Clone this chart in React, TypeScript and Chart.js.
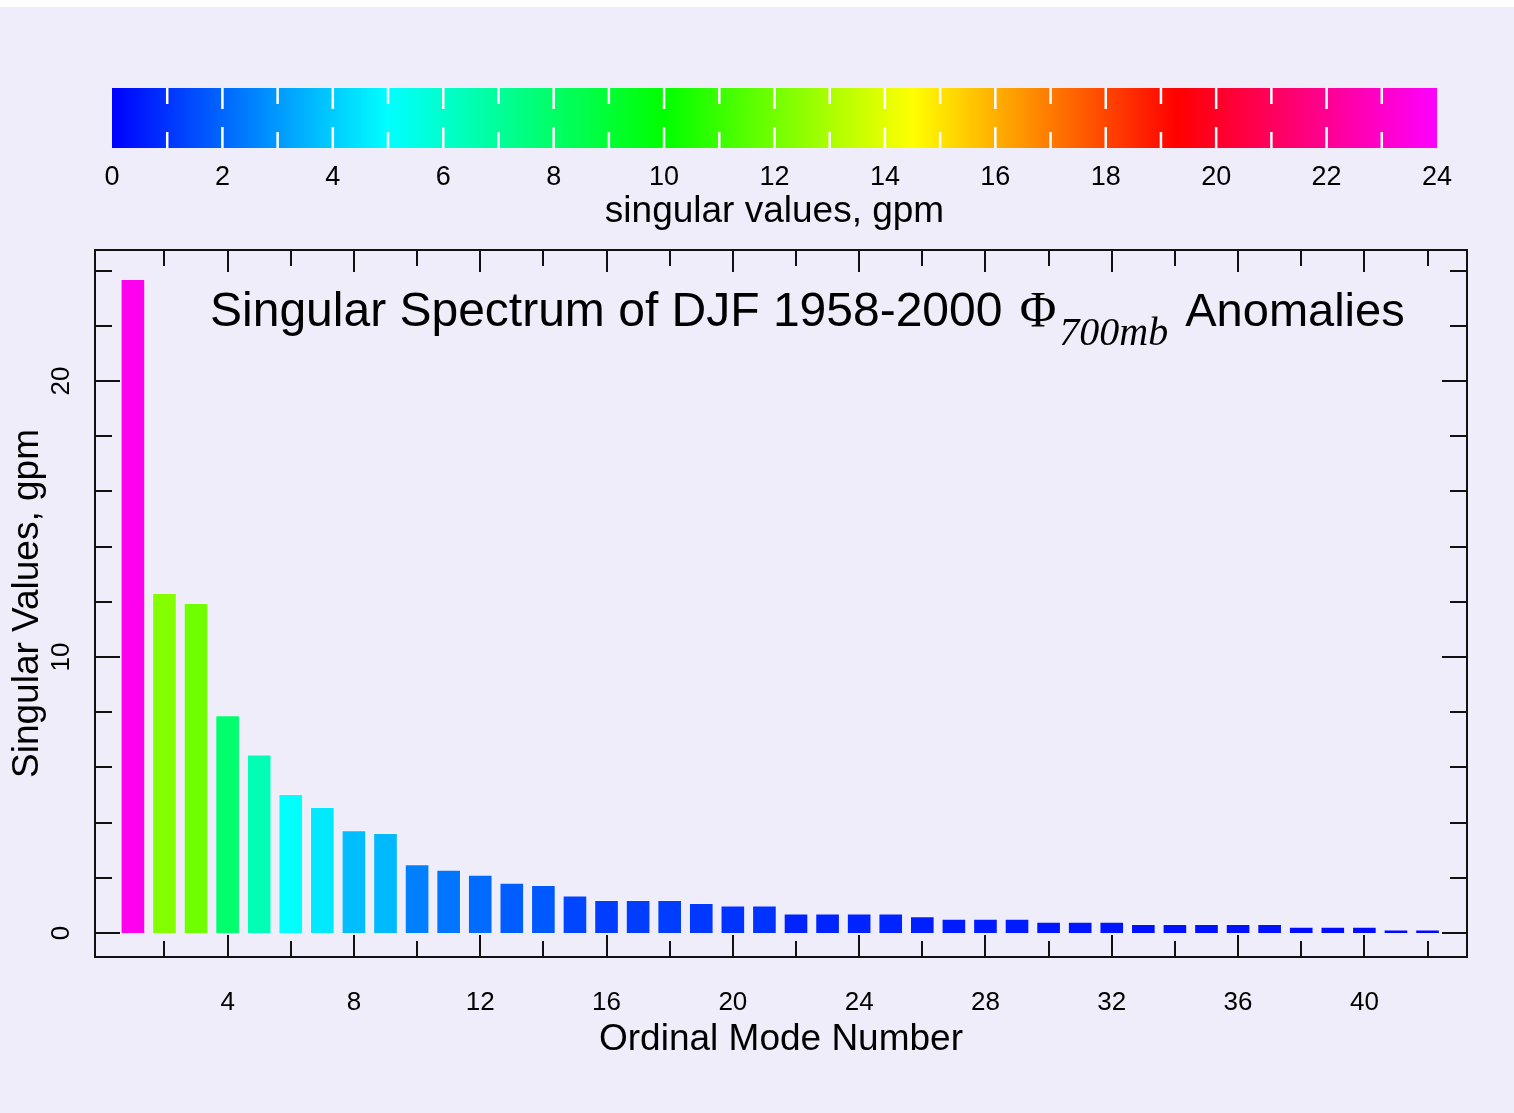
import React, { useEffect, useRef } from "react";
import { Chart, registerables } from "chart.js";

Chart.register(...registerables);

// ---------------- data ----------------
const modeNumbers = Array.from({ length: 42 }, (_, i) => i + 1);
const singularValues = [
  23.7, 12.32, 11.96, 7.89, 6.47, 5.04, 4.57, 3.72, 3.62, 2.49,
  2.29, 2.11, 1.82, 1.74, 1.36, 1.2, 1.2, 1.2, 1.09, 1.0,
  1.0, 0.71, 0.71, 0.71, 0.71, 0.61, 0.52, 0.52, 0.52, 0.41,
  0.41, 0.41, 0.33, 0.33, 0.33, 0.33, 0.33, 0.23, 0.23, 0.23,
  0.13, 0.13,
];
const xTickLabels = [4, 8, 12, 16, 20, 24, 28, 32, 36, 40];
const yTickLabels = [0, 10, 20];
const colorbarTicks = [0, 2, 4, 6, 8, 10, 12, 14, 16, 18, 20, 22, 24];

// colour map (value -> colour)
const cmapStops = [0, 5, 10, 14.5, 19.3, 24];
const cmapColors = ["#0000ff", "#00ffff", "#00ff00", "#ffff00", "#ff0000", "#ff00ff"];

const FONT = '"Liberation Sans", Arial, Helvetica, sans-serif';
const SERIF = '"Liberation Serif", "Times New Roman", serif';
const BG = "#eeedf9";

function hexToRgb(h: string) {
  const n = parseInt(h.slice(1), 16);
  return [(n >> 16) & 255, (n >> 8) & 255, n & 255];
}
function colorFor(v: number) {
  const lo = cmapStops[0];
  const hi = cmapStops[cmapStops.length - 1];
  const t = Math.max(lo, Math.min(hi, v));
  for (let i = 0; i < cmapStops.length - 1; i++) {
    if (t <= cmapStops[i + 1]) {
      const f = (t - cmapStops[i]) / (cmapStops[i + 1] - cmapStops[i]);
      const a = hexToRgb(cmapColors[i]);
      const b = hexToRgb(cmapColors[i + 1]);
      const c = a.map((x, k) => Math.round(x + (b[k] - x) * f));
      return `rgb(${c[0]},${c[1]},${c[2]})`;
    }
  }
  return cmapColors[cmapColors.length - 1];
}

const W = 1514;
const H = 1106;

// ---------------- plugins ----------------
const colorbarTicksPlugin = {
  id: "colorbarTicks",
  afterDatasetsDraw(chart: any) {
    const { ctx, chartArea: a, scales } = chart;
    const x = scales.x;
    ctx.save();
    ctx.strokeStyle = "#ffffff";
    ctx.lineWidth = 2.5;
    for (let v = cmapStops[0] + 1; v < cmapStops[cmapStops.length - 1]; v++) {
      const px = x.getPixelForValue(v);
      const len = v % 2 === 0 ? 21 : 16;
      ctx.beginPath();
      ctx.moveTo(px, a.top);
      ctx.lineTo(px, a.top + len);
      ctx.moveTo(px, a.bottom);
      ctx.lineTo(px, a.bottom - len);
      ctx.stroke();
    }
    ctx.restore();
  },
};

const framePlugin = {
  id: "frame",
  afterDatasetsDraw(chart: any) {
    const { ctx, chartArea: a, scales } = chart;
    const x = scales.x;
    const y = scales.y;
    ctx.save();
    ctx.strokeStyle = "#111";
    ctx.lineWidth = 2;
    ctx.strokeRect(a.left, a.top, a.right - a.left, a.bottom - a.top);
    ctx.beginPath();
    for (let v = 2; v <= 42; v += 2) {
      const px = Math.round(x.getPixelForValue(v));
      const len = v % 4 === 0 ? 22 : 16;
      ctx.moveTo(px, a.bottom);
      ctx.lineTo(px, a.bottom - len);
      ctx.moveTo(px, a.top);
      ctx.lineTo(px, a.top + len);
    }
    for (let v = 0; v <= 24; v += 2) {
      const py = Math.round(y.getPixelForValue(v));
      const len = v % 10 === 0 ? 25 : 17;
      ctx.moveTo(a.left, py);
      ctx.lineTo(a.left + len, py);
      ctx.moveTo(a.right, py);
      ctx.lineTo(a.right - len, py);
    }
    ctx.stroke();

    // y tick labels (rotated)
    ctx.fillStyle = "#000";
    ctx.font = `26px ${FONT}`;
    ctx.textAlign = "center";
    ctx.textBaseline = "middle";
    for (const v of yTickLabels) {
      const py = y.getPixelForValue(v);
      ctx.save();
      ctx.translate(a.left - 33, py);
      ctx.rotate(-Math.PI / 2);
      ctx.fillText(String(v), 0, 0);
      ctx.restore();
    }

    // title inside the plot
    const baseY = a.top + 76;
    let tx = a.left + 115;
    ctx.textAlign = "left";
    ctx.textBaseline = "alphabetic";
    ctx.font = `48px ${FONT}`;
    const part1 = "Singular Spectrum of DJF 1958-2000 ";
    ctx.fillText(part1, tx, baseY);
    tx += ctx.measureText(part1).width + 4;
    ctx.font = `50px ${SERIF}`;
    ctx.fillText("\u03A6", tx, baseY);
    tx += ctx.measureText("\u03A6").width + 3;
    ctx.font = `italic 40px ${SERIF}`;
    ctx.fillText("700mb", tx, baseY + 19);
    tx += ctx.measureText("700mb").width;
    ctx.font = `47px ${FONT}`;
    tx += ctx.measureText(" ").width + 4;
    ctx.fillText("Anomalies", tx, baseY);
    ctx.restore();
  },
};

export default function App() {
  const cbRef = useRef<HTMLCanvasElement>(null);
  const mainRef = useRef<HTMLCanvasElement>(null);

  useEffect(() => {
    Chart.defaults.font.family = FONT;
    Chart.defaults.color = "#000";

    const cb = new Chart(cbRef.current!, {
      type: "bar",
      data: {
        labels: ["singular values"],
        datasets: [
          {
            data: [[cmapStops[0], cmapStops[cmapStops.length - 1]]] as any,
            backgroundColor: (c: any) => {
              const chart = c.chart;
              const a = chart.chartArea;
              if (!a) return cmapColors[0];
              const xs = chart.scales.x;
              const x0 = xs.getPixelForValue(cmapStops[0]);
              const x1 = xs.getPixelForValue(cmapStops[cmapStops.length - 1]);
              const g = chart.ctx.createLinearGradient(x0, 0, x1, 0);
              const span = cmapStops[cmapStops.length - 1] - cmapStops[0];
              cmapStops.forEach((s, i) => g.addColorStop((s - cmapStops[0]) / span, cmapColors[i]));
              return g;
            },
            borderWidth: 0,
            barPercentage: 1,
            categoryPercentage: 1,
          },
        ],
      },
      options: {
        indexAxis: "y",
        responsive: false,
        animation: false,
        layout: { padding: { left: 112, right: 77, top: 81, bottom: 0 } },
        plugins: { legend: { display: false }, tooltip: { enabled: false } },
        scales: {
          x: {
            type: "linear",
            min: cmapStops[0],
            max: cmapStops[cmapStops.length - 1],
            offset: false,
            afterBuildTicks: (s: any) => {
              s.ticks = colorbarTicks.map((v) => ({ value: v }));
            },
            afterFit: (s: any) => {
              s.height = 965;
            },
            grid: { display: false },
            border: { display: false },
            ticks: { font: { size: 27 }, color: "#000", padding: 5, autoSkip: false, maxRotation: 0 },
            title: {
              display: true,
              text: "singular values, gpm",
              font: { size: 37 },
              color: "#000",
              padding: { top: 0, bottom: 879 },
            },
          },
          y: { display: false },
        },
      },
      plugins: [colorbarTicksPlugin],
    } as any);

    const main = new Chart(mainRef.current!, {
      type: "bar",
      data: {
        datasets: [
          {
            data: modeNumbers.map((m, i) => ({ x: m, y: singularValues[i] })),
            backgroundColor: singularValues.map((v) => colorFor(v)),
            borderColor: "rgba(255,255,255,0.3)",
            borderWidth: 1,
            barPercentage: 0.78,
            categoryPercentage: 1,
          },
        ],
      },
      options: {
        responsive: false,
        animation: false,
        layout: { padding: { left: 0, right: 47, top: 243, bottom: 0 } },
        plugins: { legend: { display: false }, tooltip: { enabled: false } },
        scales: {
          x: {
            type: "linear",
            min: -0.2,
            max: 43.25,
            offset: false,
            afterBuildTicks: (s: any) => {
              s.ticks = xTickLabels.map((v) => ({ value: v }));
            },
            afterFit: (s: any) => {
              s.height = 156;
            },
            grid: { display: false, offset: false },
            border: { display: false },
            ticks: { font: { size: 26 }, color: "#000", padding: 22, autoSkip: false, maxRotation: 0 },
            title: {
              display: true,
              text: "Ordinal Mode Number",
              font: { size: 37 },
              color: "#000",
              padding: { top: 0, bottom: 51 },
            },
          },
          y: {
            type: "linear",
            min: -0.87,
            max: 24.75,
            afterFit: (s: any) => {
              s.width = 95;
            },
            grid: { display: false },
            border: { display: false },
            ticks: { display: false },
            title: {
              display: true,
              text: "Singular Values, gpm",
              font: { size: 37 },
              color: "#000",
              padding: { top: 6, bottom: 0 },
            },
          },
        },
      },
      plugins: [framePlugin],
    } as any);

    return () => {
      cb.destroy();
      main.destroy();
    };
  }, []);

  return (
    <div
      style={{
        position: "absolute",
        left: 0,
        top: 7,
        width: W,
        height: H,
        background: BG,
      }}
    >
      <canvas
        ref={cbRef}
        width={W}
        height={H}
        style={{ position: "absolute", left: 0, top: 0, width: W, height: H }}
      />
      <canvas
        ref={mainRef}
        width={W}
        height={H}
        style={{ position: "absolute", left: 0, top: 0, width: W, height: H }}
      />
    </div>
  );
}
